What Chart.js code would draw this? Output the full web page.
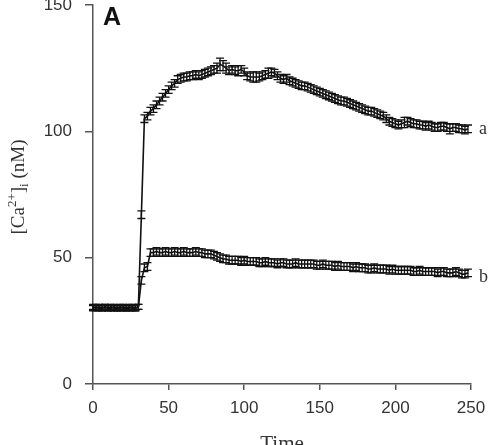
<!DOCTYPE html>
<html>
<head>
<meta charset="utf-8">
<script src="https://cdn.jsdelivr.net/npm/chart.js@4.4.0/dist/chart.umd.min.js"></script>
<style>
html, body { margin: 0; padding: 0; background: #fff; }
</style>
</head>
<body>
<canvas id="caChart" width="495" height="445"></canvas>
<script>
// time points (s)
const time = [0,2,4,6,8,10,12,14,16,18,20,22,24,26,28,30,32,34,36,38,40,42,44,46,48,50,
  52,54,56,58,60,62,64,66,68,70,72,74,76,78,80,82,84,86,88,90,92,94,96,98,100,
  102,104,106,108,110,112,114,116,118,120,122,124,126,128,130,132,134,136,138,140,
  142,144,146,148,150,152,154,156,158,160,162,164,166,168,170,172,174,176,178,180,
  182,184,186,188,190,192,194,196,198,200,202,204,206,208,210,212,214,216,218,220,
  222,224,226,228,230,232,234,236,238,240,242,244,246,248];

// curve a
const caA = [30.5,30,30.5,30,30.5,30,30,30.5,30,30,30.5,30,30,30.5,30,30.5,
  67,105,106,108,109,110.5,112,113.5,115,116.5,
  118,119,120.5,121,121.5,121.5,122,122,122.5,122,
  122.5,123,123.5,124,124.5,125,126.5,126,125,124,
  124.5,124,124,124.5,123.5,122,121.5,121.5,121.5,121.5,
  122,122.5,123,123.5,123,122,121,120.5,121,120,
  119.5,119,118.5,118,118,117.5,117,116.5,116,115.5,
  115,114.5,114,113.5,113,112.5,112,112,111.5,111,
  110.5,110,109.5,109,108.5,108,108,107.5,107,106.5,
  106,105,104,103.5,103,102.5,103,103.5,104,103.5,
  103,103,102.5,102.5,102,102.5,102,101.5,101.5,102,
  102,101.5,101,101.5,101.5,101,101,100.5,101];
const errA = [1,1,1,1,1,1,1,1,1,1,1,1,1,1,1,1,
  1.5,1.5,1.5,1.5,1.5,1.5,1.5,1.5,1.5,1.5,
  1.5,1.5,1.5,1.5,1.5,1.5,1.5,1.5,1.5,1.5,
  1.5,1.5,1.5,1.5,1.5,2,2.5,2,2,1.5,
  1.5,1.5,2,1.5,1.5,1.5,1.5,2,2,1.5,
  1.5,1.5,2,1.5,1.5,1.5,1.5,1.5,1.5,1.5,
  1.5,1.5,1.5,1.5,1.5,1.5,1.5,1.5,1.5,1.5,
  1.5,1.5,1.5,1.5,1.5,1.5,1.5,1.5,1.5,1.5,
  1.5,1.5,1.5,1.5,1.5,1.5,1.5,1.5,1.5,1.5,
  1.5,1.5,1.5,1.5,1.5,1.5,1.5,2,1.5,1.5,
  1.5,1.5,1.5,1.5,1.5,1.5,1.5,1.5,1.5,1.5,
  1.5,1.5,2,1.5,1.5,1.5,1.5,1.5,1.5];

// curve b
const caB = [30,30.5,30,30,30.5,30,30.5,30,30,30.5,30,30,30.5,30,30,30.5,
  41,46,46.5,
  52,52,52.5,52,52,52.5,52,52,52.5,52,52,52.5,52,52,52,52.5,52,52,51.5,51.5,51.5,51,50.5,
  50,49.5,49.5,49,49,49,49,48.5,49,48.5,
  48.5,48.5,48.5,48,48,48.5,48,48,48,47.5,
  48,48,47.5,47.5,47.5,48,47.5,47.5,47.5,47.5,
  47.5,47.5,47,47,47.5,47,47,47,46.5,47,
  46.5,46.5,46.5,46.5,46,46.5,46,46,46,45.5,
  45.5,46,45.5,45.5,45.5,45.5,45,45.5,45,45,
  45,45,45,45,44.5,44.5,45,44.5,44.5,44.5,
  44.5,44.5,44,44.5,44.5,44,44,44,44.5,44,
  43.5,43.5,44];
const errB = [1,1,1,1,1,1,1,1,1,1,1,1,1,1,1,1,
  1.5,1.5,1.5,
  1.5,1.5,1.5,1.5,1.5,1.5,1.5,1.5,1.5,1.5,1.5,1.5,1.5,1.5,1.5,1.5,1.5,1.5,1.5,1.5,1.5,1.5,1.5,
  1.5,1.5,1.5,1.5,1.5,1.5,1.5,1.5,1.5,1.5,
  1.5,1.5,1.5,1.5,1.5,1.5,1.5,1.5,1.5,1.5,
  1.5,1.5,1.5,1.5,1.5,1.5,1.5,1.5,1.5,1.5,
  1.5,1.5,1.5,1.5,1.5,1.5,1.5,1.5,1.5,1.5,
  1.5,1.5,1.5,1.5,1.5,1.5,1.5,1.5,1.5,1.5,
  1.5,1.5,1.5,1.5,1.5,1.5,1.5,1.5,1.5,1.5,
  1.5,1.5,1.5,1.5,1.5,1.5,1.5,1.5,1.5,1.5,
  1.5,1.5,1.5,1.5,1.5,1.5,1.5,1.5,1.5,1.5,
  1.5,1.5,1.5];

const xTicks = [0, 50, 100, 150, 200, 250];
const yTicks = [0, 50, 100, 150];
const seriesNames = ['a', 'b'];

const toPoints = (vals) => vals.map((v, i) => ({ x: time[i], y: v }));

// error bars drawn with the y scale
const errorBars = {
  id: 'errorBars',
  afterDatasetsDraw(chart) {
    const c = chart.ctx, ys = chart.scales.y;
    c.save();
    c.strokeStyle = '#111';
    c.lineWidth = 1.3;
    chart.data.datasets.forEach((ds, i) => {
      const meta = chart.getDatasetMeta(i);
      meta.data.forEach((pt, j) => {
        const v = ds.data[j].y, e = ds.err[j];
        const y1 = ys.getPixelForValue(v + e), y2 = ys.getPixelForValue(v - e);
        c.beginPath();
        c.moveTo(pt.x, y1); c.lineTo(pt.x, y2);
        c.moveTo(pt.x - 4, y1); c.lineTo(pt.x + 4, y1);
        c.moveTo(pt.x - 4, y2); c.lineTo(pt.x + 4, y2);
        c.stroke();
      });
    });
    c.restore();
  }
};

// panel letter, series labels and axis titles
const labels = {
  id: 'labels',
  afterDraw(chart) {
    const c = chart.ctx, xs = chart.scales.x, ys = chart.scales.y;
    c.save();
    c.fillStyle = '#111';
    c.font = 'bold 25px "Liberation Sans", Arial, sans-serif';
    c.textAlign = 'left';
    c.textBaseline = 'alphabetic';
    c.fillText('A', 103, 25);

    c.fillStyle = '#333';
    c.font = '18px "Liberation Serif", "Times New Roman", serif';
    c.textBaseline = 'middle';
    const lastA = caA[caA.length - 1], lastB = caB[caB.length - 1];
    c.fillText(seriesNames[0], xs.getPixelForValue(250) + 8, ys.getPixelForValue(lastA));
    c.fillText(seriesNames[1], xs.getPixelForValue(250) + 8, ys.getPixelForValue(lastB) + 4);

    c.textAlign = 'center';
    c.textBaseline = 'alphabetic';
    c.font = '21px "Liberation Serif", "Times New Roman", serif';
    c.fillText('Time', (chart.chartArea.left + chart.chartArea.right) / 2, 450);

    // y title: [Ca2+]i (nM)
    const big = '19px "Liberation Serif", "Times New Roman", serif';
    const small = '13px "Liberation Serif", "Times New Roman", serif';
    const parts = [
      { t: '[Ca', f: big, dy: 0 },
      { t: '2+', f: small, dy: -8 },
      { t: ']', f: big, dy: 0 },
      { t: 'i', f: small, dy: 4 },
      { t: ' (nM)', f: big, dy: 0 }
    ];
    let total = 0;
    parts.forEach(p => { c.font = p.f; p.w = c.measureText(p.t).width; total += p.w; });
    c.translate(24, 187);
    c.rotate(-Math.PI / 2);
    c.textAlign = 'left';
    let x = -total / 2;
    parts.forEach(p => { c.font = p.f; c.fillText(p.t, x, p.dy); x += p.w; });
    c.restore();
  }
};

new Chart(document.getElementById('caChart'), {
  type: 'line',
  data: {
    datasets: [{
      label: seriesNames[0],
      data: toPoints(caA),
      err: errA,
      borderColor: '#111',
      borderWidth: 1.6,
      pointRadius: 0,
      fill: false,
      tension: 0
    }, {
      label: seriesNames[1],
      data: toPoints(caB),
      err: errB,
      borderColor: '#111',
      borderWidth: 1.6,
      pointRadius: 0,
      fill: false,
      tension: 0
    }]
  },
  options: {
    responsive: false,
    animation: false,
    layout: { padding: { left: 0, top: 5, right: 24, bottom: 0 } },
    scales: {
      x: {
        type: 'linear',
        min: 0,
        max: 250,
        afterBuildTicks: (s) => { s.ticks = xTicks.map(v => ({ value: v })); },
        afterFit: (s) => { s.height = 61; s.paddingLeft = 0; s.paddingRight = 0; },
        ticks: {
          color: '#333',
          padding: 8,
          maxRotation: 0,
          font: { family: '"Liberation Sans", Arial, sans-serif', size: 17 }
        },
        grid: { drawOnChartArea: false, drawTicks: true, tickLength: 6, color: '#555', lineWidth: 1.5 },
        border: { display: true, color: '#555', width: 1.5 }
      },
      y: {
        min: 0,
        max: 150,
        afterBuildTicks: (s) => { s.ticks = yTicks.map(v => ({ value: v })); },
        afterFit: (s) => { s.width = 93; s.paddingTop = 0; s.paddingBottom = 0; },
        ticks: {
          color: '#333',
          padding: 13,
          font: { family: '"Liberation Sans", Arial, sans-serif', size: 17 }
        },
        grid: { drawOnChartArea: false, drawTicks: true, tickLength: 8, color: '#555', lineWidth: 1.5 },
        border: { display: true, color: '#555', width: 1.5 }
      }
    },
    plugins: {
      legend: { display: false },
      tooltip: { enabled: false }
    }
  },
  plugins: [errorBars, labels]
});
</script>
</body>
</html>
